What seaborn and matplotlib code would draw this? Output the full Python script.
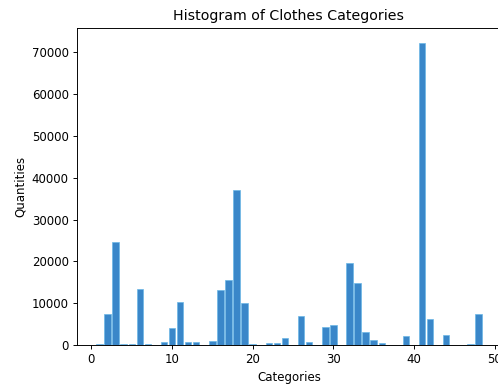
import matplotlib
matplotlib.use("Agg")

import pandas as pd
import matplotlib.pyplot as plt
import seaborn as sns


# ======================================
# DATA
# ======================================

categories = [
    1, 2, 3, 4, 5, 6, 7, 9, 10, 11, 12, 13, 15, 16, 17, 18, 19, 20,
    22, 23, 24, 26, 27, 29, 30, 32, 33, 34, 35, 36, 39, 41, 42, 44, 47, 48
]

quantities = [
    300, 7400, 24700, 300, 300, 13400, 300, 600, 4100, 10400, 600, 600,
    900, 13200, 15500, 37000, 10050, 300,
    400, 400, 1650, 7000, 600, 4350, 4900, 19700, 14800, 3100, 1100, 450,
    2100, 72300, 6200, 2350, 350, 7500
]

df = pd.DataFrame({"category": categories, "quantity": quantities})


# ======================================
# PLOT
# ======================================

DPI = 85

fig = plt.figure(figsize=(499 / DPI, 385 / DPI), dpi=DPI)

ax = fig.add_axes([77 / 499, 40 / 385, 424 / 499, 317.5 / 385])

sns.barplot(
    data=df,
    x="category",
    y="quantity",
    native_scale=True,
    color="#3a87c9",
    saturation=1,
    edgecolor="#6cb8e6",
    linewidth=0.6,
    width=0.8,
    ax=ax
)

ax.set_xlim(-1.79, 50.79)
ax.set_ylim(0, 72300 * 1.05)
ax.set_xticks([0, 10, 20, 30, 40, 50])

ax.set_title("Histogram of Clothes Categories")
ax.set_xlabel("Categories")
ax.set_ylabel("Quantities")

fig.savefig("out.png", dpi=DPI)
